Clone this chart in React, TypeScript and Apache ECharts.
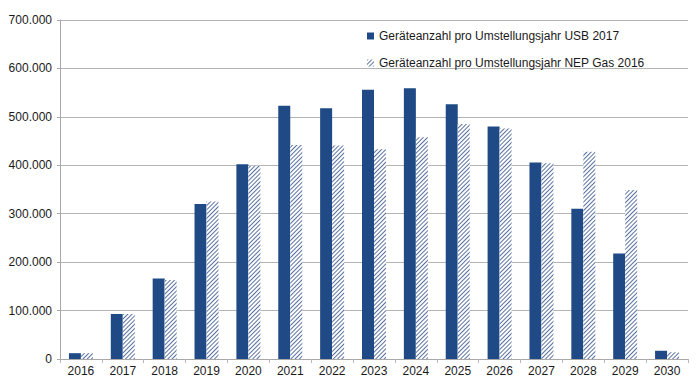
import React, { useEffect, useRef } from "react";
import * as echarts from "echarts";

const years = ["2016","2017","2018","2019","2020","2021","2022","2023","2024","2025","2026","2027","2028","2029","2030"];
const usb2017 = [12000, 93000, 166000, 320000, 402000, 523000, 518000, 556000, 559000, 526000, 480000, 406000, 310000, 218000, 17000];
const nep2016 = [12000, 93000, 163000, 325000, 399000, 442000, 441000, 433000, 458000, 485000, 476000, 404000, 428000, 349000, 14000];
const seriesNames = ["Geräteanzahl pro Umstellungsjahr USB 2017", "Geräteanzahl pro Umstellungsjahr NEP Gas 2016"];

function fmt(v: number): string {
  const s = Math.round(v).toString();
  return s.replace(/\B(?=(\d{3})+(?!\d))/g, ".");
}

export default function App() {
  const ref = useRef<HTMLDivElement>(null);
  useEffect(() => {
    if (!ref.current) return;
    const chart = echarts.init(ref.current, null, { renderer: "svg" });
    const font = "Liberation Sans, Arial, Helvetica, sans-serif";
    chart.setOption({
      animation: false,
      backgroundColor: "#ffffff",
      textStyle: { fontFamily: font },
      grid: { left: 60, right: 12, top: 20, bottom: 26, containLabel: false },
      legend: {
        orient: "vertical",
        left: 367,
        top: 30,
        padding: 0,
        itemGap: 15,
        itemWidth: 7,
        itemHeight: 7,
        icon: "rect",
        textStyle: { fontSize: 12, color: "#1a1a1a", fontFamily: font },
        data: seriesNames,
      },
      xAxis: {
        type: "category",
        data: years,
        boundaryGap: true,
        axisLine: { lineStyle: { color: "#a8a8a8", width: 1 } },
        axisTick: { show: true, alignWithLabel: false, length: 4, lineStyle: { color: "#b8b8b8" } },
        axisLabel: { color: "#1a1a1a", fontSize: 12, margin: 6, fontFamily: font },
      },
      yAxis: {
        type: "value",
        min: 0,
        max: 700000,
        interval: 100000,
        axisLine: { show: true, lineStyle: { color: "#a8a8a8", width: 1 } },
        axisTick: { show: true, length: 3, lineStyle: { color: "#a8a8a8" } },
        splitLine: { show: true, lineStyle: { color: "#b4b4b4", width: 1 } },
        axisLabel: { color: "#1a1a1a", fontSize: 12, margin: 8, fontFamily: font, formatter: (v: number) => fmt(v) },
      },
      series: [
        {
          name: seriesNames[0],
          type: "bar",
          data: usb2017,
          barWidth: 12,
          barGap: "0%",
          itemStyle: { color: "#1f4a85" },
        },
        {
          name: seriesNames[1],
          type: "bar",
          data: nep2016,
          barWidth: 12,
          barGap: "0%",
          itemStyle: {
            color: "#ffffff",
            decal: {
              symbol: "rect",
              symbolSize: 1,
              color: "#5a72a0",
              backgroundColor: "#ffffff",
              dashArrayX: [1, 0],
              dashArrayY: [1, 1.3],
              rotation: -Math.PI / 4,
            },
          },
        },
      ],
    });
    return () => chart.dispose();
  }, []);
  return <div ref={ref} style={{ position: "fixed", left: 0, top: 0, width: 700, height: 385 }} />;
}
